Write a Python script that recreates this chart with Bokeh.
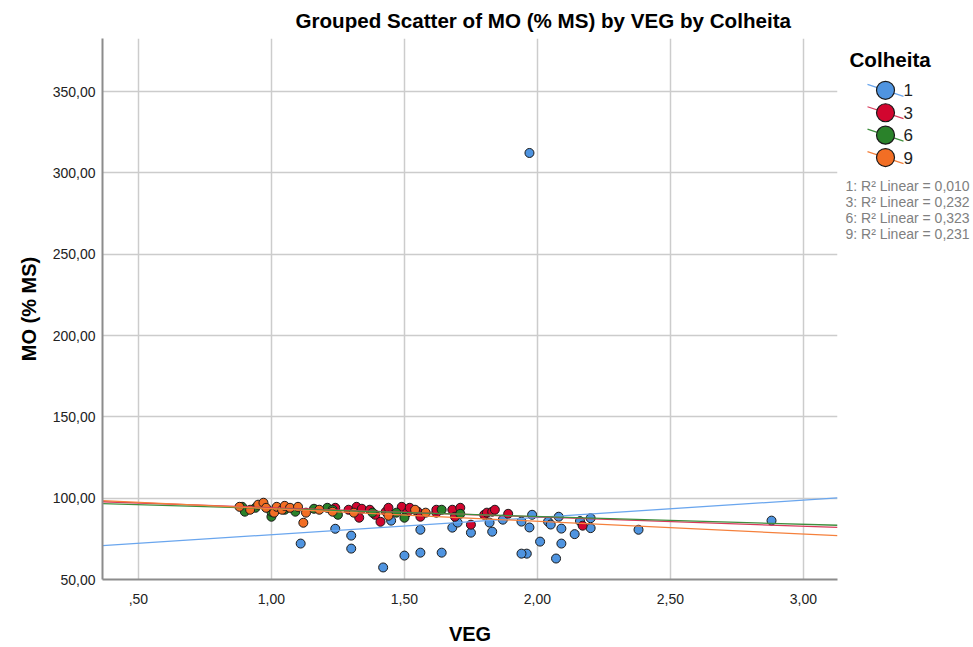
from bokeh.plotting import figure
from bokeh.layouts import row
from bokeh.models import (ColumnDataSource, CustomJSTickFormatter, FixedTicker, Range1d)
from bokeh.core.properties import value
from bokeh.embed import file_html
from bokeh.resources import INLINE

# VEG (x) and MO (% MS) (y) for each Colheita
veg_1 = [1.97, 2.88, 2.38, 1.11, 1.24, 1.30, 1.30, 1.42, 1.50, 1.56, 1.56, 1.64,
         1.45, 1.68, 1.70, 1.75, 1.82, 1.83, 1.87, 1.94, 1.97, 1.98, 1.96, 1.94,
         2.01, 2.04, 2.05, 2.08, 2.09, 2.09, 2.07, 2.14, 2.16, 2.20, 2.20]
mo_1 = [312.3, 86.2, 80.6, 72.1, 81.2, 77.0, 69.0, 57.4, 64.7, 66.5, 80.6, 66.5,
        86.2, 81.9, 85.0, 78.8, 85.0, 79.4, 86.8, 85.6, 82.0, 89.8, 65.9, 65.9,
        73.3, 85.6, 83.8, 88.6, 81.3, 72.1, 62.9, 77.9, 85.9, 87.7, 81.6]

veg_3 = [1.24, 1.29, 1.32, 1.33, 1.34, 1.37, 1.39, 1.41, 1.43, 1.44, 1.49, 1.51,
         1.52, 1.55, 1.56, 1.62, 1.62, 1.68, 1.69, 1.71, 1.75, 1.80, 1.81, 1.83,
         1.84, 1.89, 2.17]
mo_3 = [94.1, 92.9, 94.7, 88.0, 93.5, 92.9, 89.8, 85.5, 91.7, 94.1, 94.7, 91.1,
        94.1, 91.7, 88.6, 91.1, 92.9, 92.9, 88.6, 94.1, 83.7, 89.8, 91.1, 91.7,
        92.9, 90.4, 83.1]

veg_6 = [0.89, 0.90, 0.94, 1.00, 1.00, 1.05, 1.09, 1.16, 1.21, 1.23, 1.25, 1.38,
         1.47, 1.50, 1.64, 1.71]
mo_6 = [94.7, 91.7, 94.1, 88.6, 91.7, 92.9, 91.7, 93.5, 94.1, 92.9, 89.8, 91.1,
        91.1, 88.0, 92.9, 90.4]

veg_9 = [0.88, 0.92, 0.95, 0.97, 0.98, 1.01, 1.02, 1.04, 1.05, 1.07, 1.10, 1.12,
         1.13, 1.18, 1.23, 1.31, 1.44, 1.54, 1.58]
mo_9 = [94.7, 92.9, 96.0, 97.2, 94.1, 91.1, 94.7, 92.9, 95.3, 94.1, 94.7, 84.9,
        91.1, 92.9, 91.7, 91.1, 89.2, 92.9, 91.1]

groups = ["1", "3", "6", "9"]
group_x = [veg_1, veg_3, veg_6, veg_9]
group_y = [mo_1, mo_3, mo_6, mo_9]

# linear fit per Colheita: MO = intercept + slope * VEG
fit_intercept = [66.9, 99.9, 98.4, 101.4]
fit_slope = [10.64, -5.72, -4.81, -7.82]
r2_labels = ["1: R\u00b2 Linear = 0,010", "3: R\u00b2 Linear = 0,232",
             "6: R\u00b2 Linear = 0,323", "9: R\u00b2 Linear = 0,231"]

x_ticks = [0.5, 1.0, 1.5, 2.0, 2.5, 3.0]
y_ticks = [50, 100, 150, 200, 250, 300, 350]

fill_colors = ["#4f94e0", "#d2062f", "#2a822a", "#f26e24"]
line_colors = ["#6aa6ee", "#d83a5c", "#3e8f3e", "#f5803c"]

FONT = "Liberation Sans"
W_MAIN, W_KEY, H = 840, 133, 647
B_TOP, B_BOTTOM = 37, 67

x_start, x_end = 0.365, 3.128
p = figure(width=W_MAIN, height=H, output_backend="svg", toolbar_location=None,
           x_range=Range1d(x_start, x_end), y_range=Range1d(50, 382.7),
           min_border_left=102, min_border_right=3, min_border_top=B_TOP,
           min_border_bottom=B_BOTTOM)
p.outline_line_color = None
p.background_fill_color = "white"

p.title.text = "Grouped Scatter of MO (% MS) by VEG by Colheita"
p.title.text_font = FONT
p.title.text_font_size = "20.6px"
p.title.text_font_style = "bold"
p.title.text_color = "#000000"
p.title.align = "left"
p.title.offset = 193
p.title.standoff = 13

fmt = CustomJSTickFormatter(code="""
    const s = tick.toFixed(2).replace('.', ',');
    return s.startsWith('0,') ? s.slice(1) : s;
""")
p.xaxis.ticker = FixedTicker(ticks=x_ticks)
p.yaxis.ticker = FixedTicker(ticks=y_ticks)
p.xaxis.formatter = fmt
p.yaxis.formatter = fmt

for ax in (p.xaxis, p.yaxis):
    ax.axis_line_color = "#8c8c8c"
    ax.axis_line_width = 2
    ax.major_tick_line_color = None
    ax.minor_tick_line_color = None
    ax.major_label_text_font = FONT
    ax.major_label_text_font_size = "14px"
    ax.major_label_text_color = "#222222"
    ax.axis_label_text_font = FONT
    ax.axis_label_text_font_size = "20px"
    ax.axis_label_text_font_style = "bold"
    ax.axis_label_text_color = "#000000"

p.xaxis.axis_label = "VEG"
p.yaxis.axis_label = "MO (% MS)"
p.xaxis.major_label_standoff = 8
p.yaxis.major_label_standoff = 1
p.xaxis.axis_label_standoff = 16
p.yaxis.axis_label_standoff = 10

p.grid.grid_line_color = "#cccccc"
p.grid.grid_line_width = 1.5

for xs, ys, fc in zip(group_x, group_y, fill_colors):
    src = ColumnDataSource(dict(x=xs, y=ys))
    p.scatter("x", "y", source=src, size=9, fill_color=fc,
              line_color="#1a1a1a", line_width=1)

# fit lines across the full VEG range
for b0, b1, lc in zip(fit_intercept, fit_slope, line_colors):
    fx = [x_start, x_end]
    p.line(fx, [b0 + b1 * v for v in fx], line_color=lc, line_width=1.3)

# key panel to the right of the plot; its frame lines up with the plot frame,
# so the ranges are set in page pixels (y grows downward)
k = figure(width=W_KEY, height=H, output_backend="svg", toolbar_location=None,
           x_range=Range1d(0, W_KEY), y_range=Range1d(H - B_BOTTOM, B_TOP),
           min_border_left=0, min_border_right=0, min_border_top=B_TOP,
           min_border_bottom=B_BOTTOM, x_axis_type=None, y_axis_type=None)
k.outline_line_color = None
k.grid.visible = False

row_top, row_pitch = 89, 22.5
key_y = [row_top + i * row_pitch for i in range(len(groups))]

k.text(x=[9], y=[58], text=["Colheita"], text_font=value(FONT),
       text_font_size="20.6px", text_font_style="bold", text_baseline="middle",
       text_color="#000000")
k.segment(x0=[27] * 4, y0=[v - 6 for v in key_y], x1=[63] * 4,
          y1=[v + 6 for v in key_y], line_color=line_colors, line_width=1.3)
k.scatter(x=[45] * 4, y=key_y, size=18, fill_color=fill_colors,
          line_color="#1a1a1a", line_width=1.2)
k.text(x=[63] * 4, y=key_y, text=groups, text_font=value(FONT),
       text_font_size="17px", text_baseline="middle", text_color="#222222")

r2_top, r2_pitch = 185, 16
k.text(x=[5] * 4, y=[r2_top + i * r2_pitch for i in range(len(r2_labels))],
       text=r2_labels, text_font=value(FONT), text_font_size="14px",
       text_baseline="middle", text_color="#808080")

layout = row(p, k, spacing=0)
open("out.html", "w").write(file_html(layout, INLINE))
